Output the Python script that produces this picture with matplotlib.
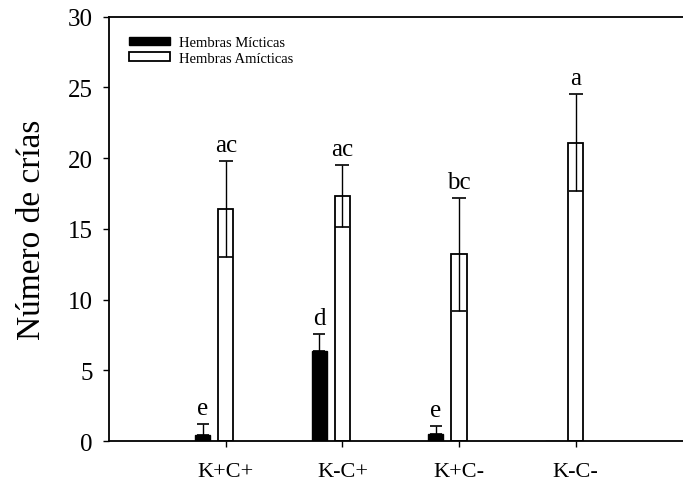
import matplotlib

matplotlib.use("Agg")
import matplotlib.pyplot as plt
import numpy as np

plt.rcParams["font.family"] = ["Liberation Serif", "DejaVu Serif"]

# Tratamientos y medias (± error) del número de crías por hembra
tratamientos = ["K+C+", "K-C+", "K+C-", "K-C-"]

micticas_media = [0.4, 6.4, 0.5, 0.0]
micticas_error = [0.8, 1.2, 0.55, 0.0]
micticas_letras = ["e", "d", "e", ""]

amicticas_media = [16.4, 17.3, 13.2, 21.1]
amicticas_error = [3.4, 2.2, 4.0, 3.4]
amicticas_letras = ["ac", "ac", "bc", "a"]

posiciones = np.arange(1, len(tratamientos) + 1)
ancho = 0.13
desplazamiento = 0.2

fig = plt.figure(figsize=(6.83, 4.89), dpi=100)
ax = fig.add_axes([0.160, 0.096, 0.845, 0.868])

x_mict = posiciones - desplazamiento
x_amict = posiciones

barras_mict = ax.bar(
    x_mict, micticas_media, width=ancho, color="black", edgecolor="black",
    linewidth=1.0, label="Hembras Mícticas", zorder=2,
)
barras_amict = ax.bar(
    x_amict, amicticas_media, width=ancho, color="white", edgecolor="black",
    linewidth=1.3, label="Hembras Amícticas", zorder=2,
)

# Las hembras mícticas sólo muestran el error hacia arriba
con_barra = [i for i, m in enumerate(micticas_media) if m > 0]
ax.errorbar(
    x_mict[con_barra],
    [micticas_media[i] for i in con_barra],
    yerr=[[0] * len(con_barra), [micticas_error[i] for i in con_barra]],
    fmt="none", ecolor="black", elinewidth=1.0, capsize=4.6, capthick=1.2, zorder=3,
)
ax.errorbar(
    x_amict, amicticas_media, yerr=amicticas_error,
    fmt="none", ecolor="black", elinewidth=1.0, capsize=5.0, capthick=1.2, zorder=3,
)

for x, m, e, letra in zip(x_mict, micticas_media, micticas_error, micticas_letras):
    if letra:
        ax.text(x, m + e + 0.35, letra, ha="center", va="bottom", fontsize=18)
for x, m, e, letra in zip(x_amict, amicticas_media, amicticas_error, amicticas_letras):
    ax.text(x, m + e + 0.35, letra, ha="center", va="bottom", fontsize=18)

ax.set_xlim(0, 4.95)
ax.set_ylim(0, 30)
ax.set_yticks(np.arange(0, 31, 5))
ax.set_xticks(posiciones)
ax.set_xticklabels(tratamientos)
ax.tick_params(axis="y", direction="out", length=4, width=1.0, labelsize=18, pad=8)
ax.tick_params(axis="x", direction="out", length=4, width=1.0, labelsize=16, pad=11)
ax.set_ylabel("Número de crías", fontsize=24, labelpad=15)

for lado in ("left", "bottom", "top"):
    ax.spines[lado].set_linewidth(1.3)
ax.spines["right"].set_visible(False)

ax.legend(
    handles=[barras_mict, barras_amict], loc="upper left", bbox_to_anchor=(0.012, 0.985),
    frameon=False, fontsize=10.5, handlelength=2.8, handleheight=0.55, handletextpad=0.6,
    labelspacing=0.2,
)

fig.savefig("out.png", dpi=100)
plt.close(fig)
